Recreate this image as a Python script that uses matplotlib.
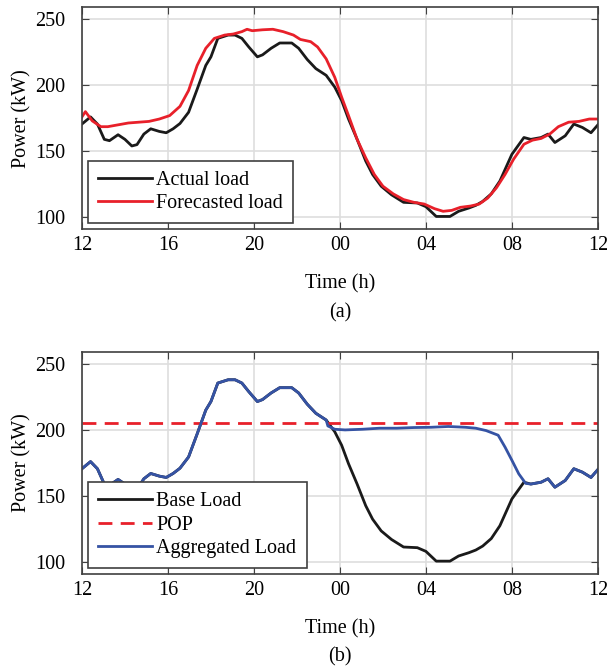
import numpy as np
from matplotlib import pyplot as plt

# hours counted from noon of day 1 (12) to noon of day 2 (36)
t_actual = [12.0, 12.4, 12.72, 13.04, 13.28, 13.68, 14.0, 14.32, 14.56, 14.88,
            15.2, 15.6, 15.92, 16.24, 16.56, 16.96, 17.36, 17.76, 18.0, 18.32,
            18.8, 19.12, 19.44, 19.76, 20.16, 20.4, 20.8, 21.2, 21.76, 22.08,
            22.48, 22.88, 23.36, 23.76, 24.08, 24.4, 24.8, 25.2, 25.52, 25.92,
            26.4, 26.96, 27.6, 28.0, 28.48, 29.12, 29.52, 30.0, 30.32, 30.64,
            31.04, 31.44, 32.0, 32.56, 32.88, 33.36, 33.68, 34.0, 34.48, 34.88,
            35.28, 35.68, 36.0]
p_actual = [170.6, 176, 170.6, 159, 158, 162.5, 159, 154, 155, 163,
            167, 165, 164, 167, 171, 179.5, 197, 215, 221.5, 235.5,
            238, 238, 235.5, 229, 221.5, 223, 228, 232, 232, 228,
            219.5, 212.6, 207.5, 198.6, 188.4, 174.4, 159, 142.6, 132.4, 123.5,
            117, 111.3, 110.8, 108, 100.6, 100.6, 104.5, 107, 109, 112,
            117.7, 127.4, 147.7, 160.4, 159, 160.4, 163, 156.6, 161.7, 170.6,
            168, 164, 170]

t_fore = [12.0, 12.16, 12.48, 12.88, 13.2, 13.68, 14.16, 14.64, 15.12, 15.6,
          16.08, 16.56, 16.96, 17.36, 17.76, 18.16, 18.64, 19.04, 19.44, 19.68,
          19.92, 20.4, 20.88, 21.36, 21.84, 22.16, 22.64, 22.96, 23.36, 23.76,
          24.08, 24.4, 24.8, 25.2, 25.6, 26.0, 26.48, 26.96, 27.44, 27.92,
          28.4, 28.8, 29.2, 29.6, 30.08, 30.48, 30.88, 31.28, 31.68, 32.08,
          32.56, 32.96, 33.36, 33.76, 34.16, 34.64, 35.12, 35.6, 36.0]
p_fore = [176, 180, 173, 168.6, 168.6, 170, 171.4, 172, 172.6, 174.4,
          177, 184, 196, 215, 228, 235.5, 238, 238.8, 240.6, 242.4,
          241.3, 242, 242.4, 240.6, 238, 234.7, 233, 229, 220, 206,
          191, 177, 159, 145, 132.4, 123.5, 117.7, 113.4, 111.3, 110,
          106.5, 104.5, 105.2, 107.5, 108.5, 110, 114.6, 122.3, 132.4, 144,
          155.3, 158.4, 159.7, 163, 168.6, 172, 172.6, 174.4, 174.4]

# peak shaving part of the aggregated load
t_shaved = [23.44, 23.76, 24.24, 25.04, 25.84, 26.64, 27.44, 28.24, 29.04,
            29.84, 30.32, 30.8, 31.36, 31.68, 32.0, 32.32, 32.64]
p_shaved = [203, 200.5, 200, 200.5, 201.3, 201.3, 201.8, 202, 202.6,
            202, 201.3, 199.5, 196, 187, 177, 166.7, 159.5]

pop_level = 205
xticks = [12, 16, 20, 24, 28, 32, 36]
xticklabels = ['12', '16', '20', '00', '04', '08', '12']
yticks = [100, 150, 200, 250]

FS = 14.5
plt.rcParams['font.family'] = ['Liberation Serif', 'DejaVu Serif']
plt.rcParams['font.size'] = FS

BLACK = '#1a1a1a'
RED = '#e8202a'
BLUE = '#3553a4'


def style_axes(ax, sub):
	ax.set_xlim(12, 36)
	ax.set_ylim(91, 259)
	ax.set_xticks(xticks)
	ax.set_xticklabels(xticklabels)
	ax.set_yticks(yticks)
	ax.grid(True, color='#dedede', linewidth=1.2)
	ax.set_axisbelow(True)
	ax.tick_params(direction='in', top=True, right=True, length=5,
				   color='#404040', labelsize=FS)
	ax.tick_params(axis='x', pad=5)
	ax.tick_params(axis='y', pad=12)
	for s in ax.spines.values():
		s.set_color('#404040')
		s.set_linewidth(1.2)
	ax.set_ylabel('Power (kW)', fontsize=FS, labelpad=3)
	ax.set_xlabel('Time (h)\n(' + sub + ')', fontsize=FS, labelpad=14,
				  linespacing=1.65)


def make_legend(ax):
	leg = ax.legend(loc='lower left', bbox_to_anchor=(0.0, 0.0),
					fancybox=False, framealpha=1, edgecolor='#404040',
					handlelength=2.7, handletextpad=0.2, labelspacing=0.2,
					borderpad=0.5, borderaxespad=0.3, fontsize=FS)
	leg.get_frame().set_linewidth(1.2)


fig = plt.figure(figsize=(6.07, 6.68), dpi=100)
ax1 = fig.add_axes([0.135, 0.657, 0.85, 0.332])
ax2 = fig.add_axes([0.135, 0.141, 0.85, 0.332])

ax1.plot(t_actual, p_actual, color=BLACK, lw=2, label='Actual load')
ax1.plot(t_fore, p_fore, color=RED, lw=2, label='Forecasted load')
style_axes(ax1, 'a')
make_legend(ax1)

t_actual = np.array(t_actual)
p_actual = np.array(p_actual)
before = t_actual < t_shaved[0]
after = t_actual > t_shaved[-1]
t_agg = np.concatenate([t_actual[before], t_shaved, t_actual[after]])
p_agg = np.concatenate([p_actual[before], p_shaved, p_actual[after]])

ax2.plot(t_actual, p_actual, color=BLACK, lw=2, label='Base Load')
ax2.axhline(pop_level, color=RED, lw=2, ls=(0, (5, 3)), label='POP')
ax2.plot(t_agg, p_agg, color=BLUE, lw=2, label='Aggregated Load')
style_axes(ax2, 'b')
make_legend(ax2)

fig.savefig('out.png', dpi=100)
